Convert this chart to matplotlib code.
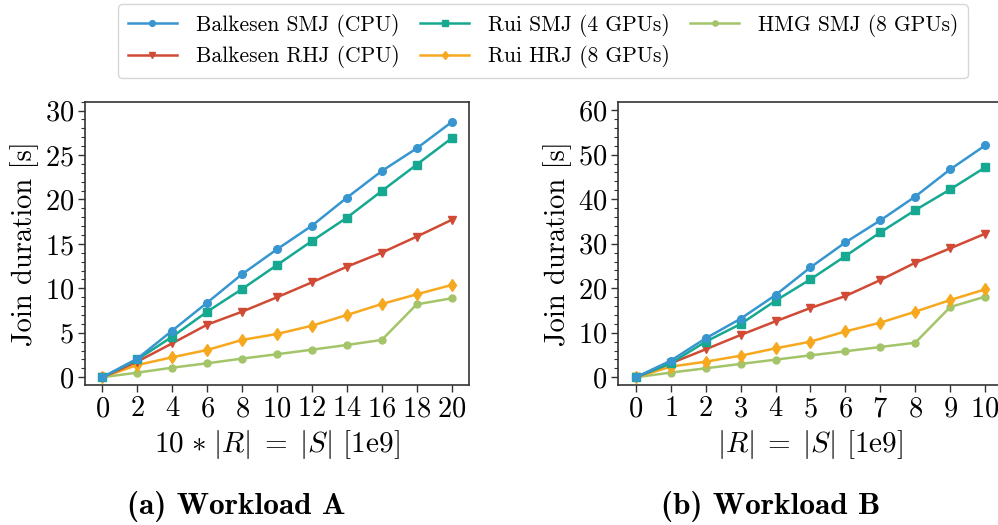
import matplotlib
matplotlib.use("Agg")
import matplotlib.pyplot as plt
from matplotlib.ticker import MultipleLocator

plt.rcParams['font.family'] = ['cmr10']
plt.rcParams['mathtext.fontset'] = 'cm'
plt.rcParams['axes.formatter.use_mathtext'] = True

# ---- data ----
x_a = [0, 2, 4, 6, 8, 10, 12, 14, 16, 18, 20]
x_b = [0, 1, 2, 3, 4, 5, 6, 7, 8, 9, 10]

series_names = ["Balkesen SMJ (CPU)", "Balkesen RHJ (CPU)", "Rui SMJ (4 GPUs)",
                "Rui HRJ (8 GPUs)", "HMG SMJ (8 GPUs)"]

a_balkesen_smj = [0, 2.1, 5.25, 8.4, 11.6, 14.4, 17.05, 20.2, 23.2, 25.75, 28.7]
a_balkesen_rhj = [0, 1.76, 3.82, 5.92, 7.38, 9.0, 10.68, 12.44, 14.02, 15.82, 17.7]
a_rui_smj = [0, 2.0, 4.57, 7.38, 9.93, 12.63, 15.33, 17.95, 20.95, 23.92, 26.88]
a_rui_hrj = [0, 1.38, 2.25, 3.07, 4.2, 4.87, 5.8, 7.0, 8.24, 9.33, 10.38]
a_hmg_smj = [0, 0.52, 1.08, 1.57, 2.1, 2.59, 3.1, 3.63, 4.2, 8.2, 8.88]

b_balkesen_smj = [0, 3.73, 8.75, 13.16, 18.47, 24.69, 30.3, 35.24, 40.6, 46.7, 52.07]
b_balkesen_rhj = [0, 3.14, 6.28, 9.5, 12.57, 15.56, 18.25, 21.84, 25.73, 28.96, 32.25]
b_rui_smj = [0, 3.14, 8.0, 11.96, 17.2, 22.0, 27.23, 32.55, 37.55, 42.2, 47.14]
b_rui_hrj = [0, 2.39, 3.5, 4.85, 6.5, 8.0, 10.3, 12.27, 14.73, 17.35, 19.75]
b_hmg_smj = [0, 1.05, 2.02, 3.0, 3.96, 4.93, 5.84, 6.8, 7.77, 15.78, 18.1]

colors = ["#3796d0", "#d04a35", "#17a892", "#f6a81e", "#a4c46a"]
markers = ["o", "v", "s", "d", "o"]
msizes = [5.5, 6, 6, 6, 5]

fig = plt.figure(figsize=(9.98, 5.25), dpi=100)
ax_a = fig.add_axes([0.0852, 0.2667, 0.3848, 0.5396])
ax_b = fig.add_axes([0.6196, 0.2667, 0.385, 0.5396])

data_a = [a_balkesen_smj, a_balkesen_rhj, a_rui_smj, a_rui_hrj, a_hmg_smj]
data_b = [b_balkesen_smj, b_balkesen_rhj, b_rui_smj, b_rui_hrj, b_hmg_smj]
# drawing order: light green first, blue on top
order = [4, 3, 1, 2, 0]
handles = [None] * 5
for ax, xs, data in ((ax_a, x_a, data_a), (ax_b, x_b, data_b)):
    for i in order:
        h, = ax.plot(xs, data[i], color=colors[i], marker=markers[i], markersize=msizes[i],
                     linewidth=1.8, label=series_names[i])
        handles[i] = h

ax_a.set_xticks(x_a)
ax_a.set_xlim(-1, 21)
ax_a.set_ylim(-0.87, 31)
ax_a.yaxis.set_major_locator(MultipleLocator(5))
ax_a.yaxis.set_minor_locator(MultipleLocator(1))
ax_a.set_ylabel("Join duration [s]", fontsize=20.5, labelpad=4)
ax_a.set_xlabel(r"$10\;\!*\;\!|R|\;=\;|S|$ [1e9]", fontsize=21, labelpad=4)

ax_b.set_xticks(x_b)
ax_b.set_xlim(-0.5, 10.5)
ax_b.set_ylim(-1.73, 61.9)
ax_b.yaxis.set_major_locator(MultipleLocator(10))
ax_b.yaxis.set_minor_locator(MultipleLocator(2))
ax_b.set_ylabel("Join duration [s]", fontsize=20.5, labelpad=4)
ax_b.set_xlabel(r"$|R|\;=\;|S|$ [1e9]", fontsize=21, labelpad=4)

for ax in (ax_a, ax_b):
    ax.tick_params(axis='both', which='major', labelsize=20.5, length=5, width=1.0,
                   direction='out', color='#333333', pad=3)
    ax.tick_params(axis='y', which='minor', length=3, width=0.8, color='#333333')
    for sp in ax.spines.values():
        sp.set_color('#333333')
        sp.set_linewidth(1.2)

fig.text(0.2372, 0.035, "(a) Workload A", fontsize=22.5, family=['cmb10'],
         ha='center', va='center')
fig.text(0.7723, 0.035, "(b) Workload B", fontsize=22.5, family=['cmb10'],
         ha='center', va='center')

fig.legend(handles=[handles[0], handles[1], handles[2], handles[3], handles[4]],
           labels=[series_names[i] for i in range(5)],
           loc='upper center', bbox_to_anchor=(0.544, 0.992), ncol=3,
           fontsize=15.5, frameon=True, fancybox=True, edgecolor='#cccccc',
           handlelength=2.3, handletextpad=0.85, columnspacing=0.95,
           borderpad=0.45, labelspacing=0.4, markerscale=0.75, borderaxespad=0)

fig.savefig("out.png", dpi=100)
